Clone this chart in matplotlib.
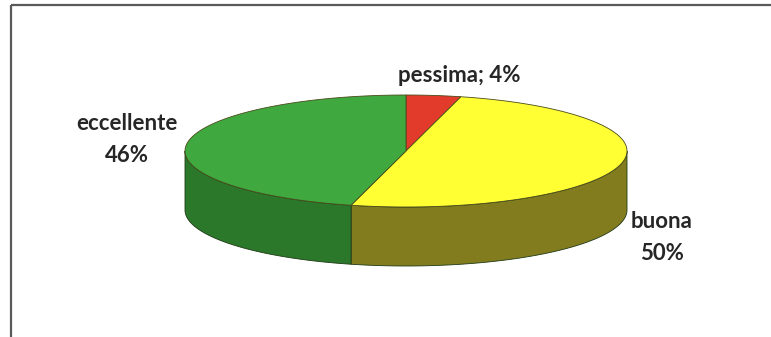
import numpy as np
import matplotlib.pyplot as plt
from matplotlib.patches import Polygon, Rectangle

# Survey answers
labels = ['pessima', 'buona', 'eccellente']
values = [4, 50, 46]

top_colors = ['#e23b2c', '#ffff33', '#3fa83f']
side_colors = ['#8a2218', '#837c1f', '#2b782b']

# Pie geometry in pixel units (y grows downward)
cx, cy = 406, 151
a, b = 221, 56
depth = 59


def rim(t):
    # t in degrees, clockwise from 12 o'clock
    r = np.radians(t)
    return cx + a * np.sin(r), cy - b * np.cos(r)


fig = plt.figure(figsize=(7.71, 3.37), dpi=100)
ax = fig.add_axes([0, 0, 1, 1])
ax.set_xlim(0, 771)
ax.set_ylim(337, 0)
ax.axis('off')

# Chart frame
ax.add_patch(Rectangle((11, 5), 780, 360, fill=False, ec='#5a5a5a', lw=1.6))

fracs = np.array(values) / sum(values)
bounds = np.concatenate([[0], np.cumsum(fracs) * 360])

# Front side walls
for i in range(len(values)):
    t1 = max(bounds[i], 90)
    t2 = min(bounds[i + 1], 270)
    if t2 <= t1:
        continue
    ts = np.linspace(t1, t2, 200)
    xs, ys = rim(ts)
    pts = np.column_stack([np.concatenate([xs, xs[::-1]]),
                           np.concatenate([ys, ys[::-1] + depth])])
    ax.add_patch(Polygon(pts, closed=True, fc=side_colors[i],
                         ec='#1e3a14', lw=0.6))

# Top faces
for i in range(len(values)):
    ts = np.linspace(bounds[i], bounds[i + 1], 300)
    xs, ys = rim(ts)
    pts = np.column_stack([np.concatenate([[cx], xs]),
                           np.concatenate([[cy], ys])])
    ax.add_patch(Polygon(pts, closed=True, fc=top_colors[i],
                         ec='#4a4a1a', lw=0.6))

# Data labels
font = dict(family=['Lato', 'DejaVu Sans'], fontweight='bold',
            fontsize=16, color='#262626', ha='center', va='center')
label_pos = [(459, 76), (662, 237), (127, 139)]
for lab, v, (lx, ly) in zip(labels, values, label_pos):
    if v < 10:
        ax.text(lx, ly, f'{lab}; {v}%', **font)
    else:
        ax.text(lx, ly - 16, lab, **font)
        ax.text(lx, ly + 16, f'{v}%', **font)

fig.savefig('out.png', dpi=100)
